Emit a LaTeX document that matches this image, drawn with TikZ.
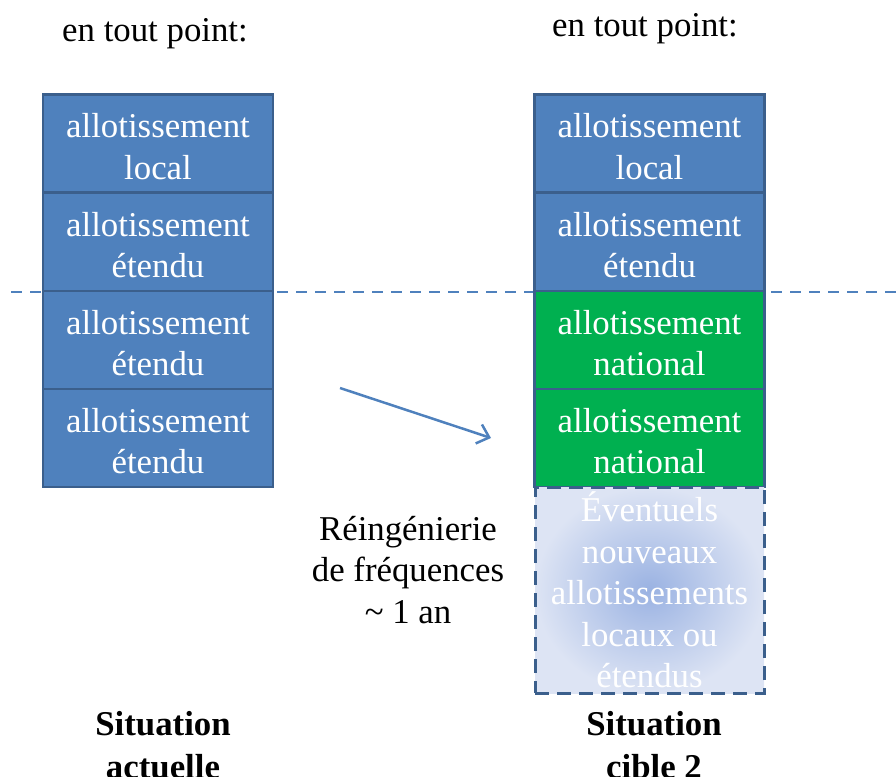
\documentclass[tikz,border=0pt]{standalone}
\usepackage{fontspec}
\setmainfont{Liberation Serif}
\usetikzlibrary{arrows.meta}
\definecolor{boxblue}{HTML}{4F81BD}
\definecolor{boxborder}{HTML}{3B5F8C}
\definecolor{boxgreen}{HTML}{00B050}
\definecolor{gradin}{HTML}{9AB2E2}
\definecolor{gradout}{HTML}{DDE4F4}
\newcommand\cellstrut{\rule{0pt}{30pt}}
\tikzset{
  bigfont/.style={font=\fontsize{34.8}{41.5}\selectfont},
  cell/.style={bigfont, draw=boxborder, line width=2.5pt, minimum width=230pt, minimum height=98pt,
    text=white, align=center, inner sep=0pt},
  bluecell/.style={cell, fill=boxblue},
  greencell/.style={cell, fill=boxgreen},
  futurecell/.style={bigfont, draw=boxborder, line width=3pt, dash pattern=on 14pt off 8pt,
    minimum width=229pt, minimum height=206pt, text=white, align=center, inner sep=0pt,
    shade, shading=radial, inner color=gradin, outer color=gradout},
  plain/.style={bigfont, align=center, inner sep=0pt},
  titletext/.style={plain, font=\fontsize{34.8}{43}\selectfont\bfseries},
  flowarrow/.style={draw=boxblue, line width=2.5pt, -{Straight Barb[length=11pt,width=20pt,line width=2.5pt]}},
  sepline/.style={draw=boxblue, line width=2pt, dash pattern=on 11pt off 8pt}
}
\begin{document}
\begin{tikzpicture}[x=1pt,y=-1pt]
\useasboundingbox (0,0) rectangle (896,776);
\coordinate (sepL) at (11,292);
\coordinate (sepR) at (896,292);
\draw[sepline] (sepL) -- (sepR);

\node[plain] (hl) at (155,34) {en tout point:};
\node[plain] (hr) at (645,29) {en tout point:};

\node[bluecell] (l1) at (158,143.5) {\cellstrut allotissement\\local};
\node[bluecell] (l2) at (158,242) {\cellstrut allotissement\\étendu};
\node[bluecell] (l3) at (158,340) {\cellstrut allotissement\\étendu};
\node[bluecell] (l4) at (158,438) {\cellstrut allotissement\\étendu};

\node[bluecell] (r1) at (649.5,143.5) {\cellstrut allotissement\\local};
\node[bluecell] (r2) at (649.5,242) {\cellstrut allotissement\\étendu};
\node[greencell] (r3) at (649.5,340) {\cellstrut allotissement\\national};
\node[greencell] (r4) at (649.5,438) {\cellstrut allotissement\\national};
\node[futurecell] (r5) at (649.5,590) {Éventuels\\nouveaux\\allotissements\\locaux ou\\étendus};

\coordinate (aS) at (340,388);
\coordinate (aE) at (491,438);
\draw[flowarrow] (aS) -- (aE);

\node[plain] (reing) at (408,570) {Réingénierie\\de fréquences\\\textasciitilde\ 1 an};

\node[titletext] (sa) at (163,745) {Situation\\actuelle};
\node[titletext] (sc) at (654,745) {Situation\\cible 2};
\end{tikzpicture}
\end{document}
